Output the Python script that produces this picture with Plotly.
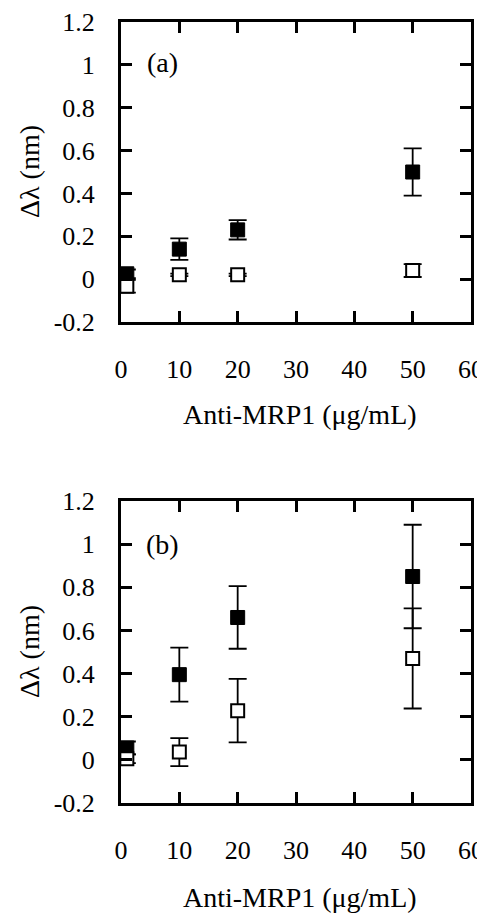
import plotly.graph_objects as go

# ---- data ----
conc = [1, 10, 20, 50]
tick_x = [0, 10, 20, 30, 40, 50, 60]
tick_y = [-0.2, 0, 0.2, 0.4, 0.6, 0.8, 1, 1.2]
tick_y_text = ["-0.2", "0", "0.2", "0.4", "0.6", "0.8", "1", "1.2"]

a_filled = [0.025, 0.14, 0.23, 0.50]
a_filled_err = [0.02, 0.05, 0.045, 0.11]
a_open = [-0.033, 0.02, 0.02, 0.04]
a_open_err = [0.03, 0.006, 0.006, 0.03]

b_filled = [0.055, 0.395, 0.66, 0.85]
b_filled_err = [0.03, 0.125, 0.145, 0.24]
b_open = [0.005, 0.036, 0.228, 0.47]
b_open_err = [0.02, 0.065, 0.147, 0.232]

# page has an 8px body margin: figure is drawn 8px in from the top-left
OFF = 8
W, H = 485 - OFF, 914 - OFF
FONT = "Liberation Serif"


def px_x(p):
    return (p - OFF) / W


def px_y(p):
    return 1 - (p - OFF) / H


fig = go.Figure()


def add_panel(idx, filled, ferr, opn, oerr):
    xa = "x" if idx == 1 else "x2"
    ya = "y" if idx == 1 else "y2"
    fig.add_trace(go.Scatter(
        x=conc, y=filled, mode="markers", xaxis=xa, yaxis=ya,
        marker=dict(symbol="square", size=14, color="black", line=dict(color="black", width=1)),
        error_y=dict(type="data", array=ferr, color="black", thickness=1.8, width=9),
        showlegend=False, cliponaxis=False))
    fig.add_trace(go.Scatter(
        x=conc, y=opn, mode="markers", xaxis=xa, yaxis=ya,
        marker=dict(symbol="square", size=13, color="white", line=dict(color="black", width=2)),
        error_y=dict(type="data", array=oerr, color="black", thickness=1.8, width=9),
        showlegend=False, cliponaxis=False))


add_panel(1, a_filled, a_filled_err, a_open, a_open_err)
add_panel(2, b_filled, b_filled_err, b_open, b_open_err)

xdom = [px_x(121), px_x(471)]
ydom1 = [px_y(322), px_y(22)]
ydom2 = [px_y(803), px_y(501)]

axis_common = dict(
    showline=True, linecolor="black", linewidth=3, mirror="ticks",
    ticks="inside", ticklen=11, tickwidth=3, tickcolor="black",
    showgrid=False, zeroline=False, automargin=False,
    tickfont=dict(family=FONT, size=26, color="black"),
)

fig.update_layout(
    template="none",
    width=W, height=H,
    margin=dict(l=0, r=0, t=0, b=0, autoexpand=False),
    paper_bgcolor="white", plot_bgcolor="white",
    xaxis=dict(domain=xdom, anchor="y", range=[0, 60], tickvals=tick_x,
               ticklabelstandoff=22, **axis_common),
    yaxis=dict(domain=ydom1, anchor="x", range=[-0.2, 1.2], tickvals=tick_y,
               ticktext=tick_y_text, ticklabelstandoff=18, **axis_common),
    xaxis2=dict(domain=xdom, anchor="y2", range=[0, 60], tickvals=tick_x,
                ticklabelstandoff=22, **axis_common),
    yaxis2=dict(domain=ydom2, anchor="x2", range=[-0.2, 1.2], tickvals=tick_y,
                ticktext=tick_y_text, ticklabelstandoff=18, **axis_common),
)

ann_font = dict(family=FONT, size=28, color="black")
for yc_title, ylab_y, panel_y, label in [(415, 172, 63, "(a)"), (897, 652, 544, "(b)")]:
    fig.add_annotation(x=px_x(300), y=px_y(yc_title), xref="paper", yref="paper",
                       text="Anti-MRP1 (μg/mL)", showarrow=False, font=ann_font,
                       xanchor="center", yanchor="middle")
    fig.add_annotation(x=px_x(29), y=px_y(ylab_y), xref="paper", yref="paper",
                       text="Δλ (nm)", showarrow=False, font=ann_font, textangle=-90,
                       xanchor="center", yanchor="middle")
    fig.add_annotation(x=px_x(162), y=px_y(panel_y), xref="paper", yref="paper",
                       text=label, showarrow=False, font=ann_font,
                       xanchor="center", yanchor="middle")

fig.write_html("out.html")
